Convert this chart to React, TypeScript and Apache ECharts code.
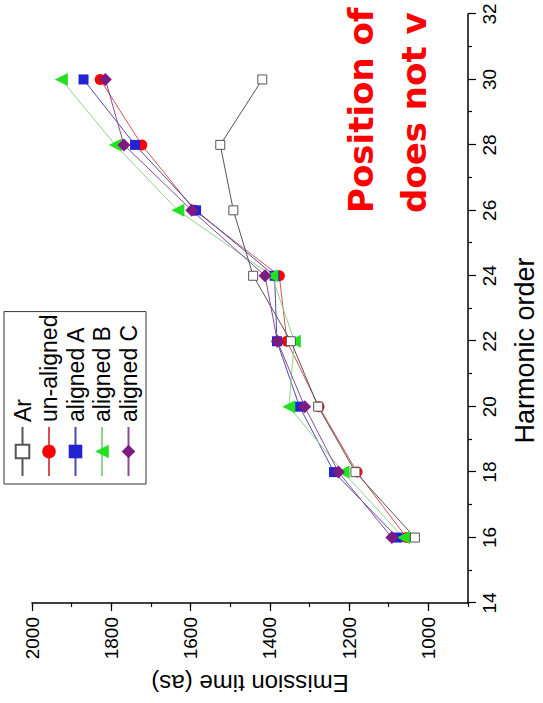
import React, { useEffect, useRef } from "react";
import * as echarts from "echarts";

// Harmonic orders and measured emission times (attoseconds)
const harmonics = [16, 18, 20, 22, 24, 26, 28, 30];
const arTimes = [1034, 1184, 1278, 1347, 1442, 1492, 1525, 1419];
const unalignedTimes = [1055, 1180, 1276, 1357, 1376, 1590, 1723, 1828];
const alignedATimes = [1078, 1238, 1325, 1382, 1388, 1586, 1740, 1870];
const alignedBTimes = [1063, 1215, 1352, 1338, 1395, 1632, 1790, 1926];
const alignedCTimes = [1092, 1227, 1312, 1381, 1412, 1597, 1768, 1815];

const seriesNames = ["Ar", "un-aligned", "aligned A", "aligned B", "aligned C"];
const timeTicks = [1000, 1200, 1400, 1600, 1800, 2000];
const noteLines = ["Position of", "does not v"];

const FONT = "'Liberation Sans', Arial, sans-serif";

const pairs = (vals: number[]) => harmonics.map((h, i) => [h, vals[i]]);

export default function App() {
  const ref = useRef<HTMLDivElement>(null);

  useEffect(() => {
    if (!ref.current) return;
    const chart = echarts.init(ref.current, undefined, { renderer: "svg" });

    const axisLine = { show: true, lineStyle: { color: "#000", width: 1.5 } };

    chart.setOption({
      animation: false,
      backgroundColor: "#fff",
      grid: { left: 96, right: 14, top: 32, bottom: 70, containLabel: false },
      legend: {
        data: seriesNames,
        orient: "vertical",
        left: 219,
        top: 4,
        itemWidth: 49,
        itemHeight: 17,
        itemGap: 3.5,
        padding: [7, 3, 6, 7],
        borderColor: "#333",
        borderWidth: 1,
        selectedMode: false,
        textStyle: { fontSize: 23, lineHeight: 23, fontFamily: FONT, color: "#000" },
      },
      xAxis: {
        type: "value",
        min: 14,
        max: 32,
        interval: 2,
        axisLine,
        axisTick: { show: true, inside: false, length: 8, lineStyle: { color: "#000", width: 1.2 } },
        minorTick: { show: true, splitNumber: 2, length: 4, lineStyle: { color: "#000", width: 1.2 } },
        axisLabel: { fontSize: 19, fontFamily: FONT, color: "#000", margin: 12 },
        splitLine: { show: false },
        minorSplitLine: { show: false },
        name: "Harmonic order",
        nameLocation: "middle",
        nameGap: 43,
        nameTextStyle: { fontSize: 27, fontFamily: FONT, color: "#000", padding: [0, 84, 0, 0] },
      },
      yAxis: [
        {
          type: "value",
          min: 900,
          max: 2000,
          position: "left",
          axisLine,
          axisTick: {
            show: true,
            inside: false,
            length: 8,
            customValues: timeTicks,
            lineStyle: { color: "#000", width: 1.2 },
          },
          axisLabel: {
            customValues: timeTicks,
            formatter: (v: number) => String(v),
            fontSize: 19,
            fontFamily: FONT,
            color: "#000",
            margin: 14,
          },
          splitLine: { show: false },
          name: "Emission time (as)",
          nameLocation: "middle",
          nameGap: 68,
          nameTextStyle: { fontSize: 24, fontFamily: FONT, color: "#000" },
        },
        {
          // minor ticks every 100 as
          type: "value",
          min: 900,
          max: 2000,
          interval: 100,
          position: "left",
          offset: 0,
          axisLine: { show: false },
          axisTick: { show: true, inside: false, length: 4, lineStyle: { color: "#000", width: 1.2 } },
          axisLabel: { show: false },
          splitLine: { show: false },
        },
      ],
      graphic: [
        {
          type: "text",
          left: 490,
          top: 334,
          style: {
            text: noteLines.join("\n"),
            font: "bold 34px 'DejaVu Sans', sans-serif",
            fill: "#ff0000",
            lineHeight: 53,
          },
        },
      ],
      series: [
        {
          name: "un-aligned",
          type: "line",
          data: pairs(unalignedTimes),
          symbol: "circle",
          symbolSize: 11,
          itemStyle: { color: "#ff0000" },
          lineStyle: { color: "#d85050", width: 1 },
        },
        {
          name: "aligned A",
          type: "line",
          data: pairs(alignedATimes),
          symbol: "rect",
          symbolSize: 10,
          itemStyle: { color: "#2323d2" },
          lineStyle: { color: "#4a4aa8", width: 1 },
        },
        {
          name: "aligned B",
          type: "line",
          data: pairs(alignedBTimes),
          symbol: "triangle",
          symbolSize: 13,
          itemStyle: { color: "#22e022" },
          lineStyle: { color: "#8ed48e", width: 1 },
        },
        {
          name: "aligned C",
          type: "line",
          data: pairs(alignedCTimes),
          symbol: "diamond",
          symbolSize: 13,
          itemStyle: { color: "#7f1a80" },
          lineStyle: { color: "#8a4a98", width: 1 },
        },
        {
          name: "Ar",
          type: "line",
          data: pairs(arTimes),
          symbol: "rect",
          symbolSize: 9,
          itemStyle: { color: "#ffffff", borderColor: "#555", borderWidth: 1 },
          lineStyle: { color: "#555", width: 1 },
        },
      ],
    });

    return () => chart.dispose();
  }, []);

  return (
    <div
      style={{
        position: "absolute",
        left: 0,
        top: 0,
        width: 543,
        height: 703,
        overflow: "hidden",
        background: "#fff",
      }}
    >
      <div
        ref={ref}
        style={{
          width: 703,
          height: 543,
          transformOrigin: "0 0",
          transform: "translateY(703px) rotate(-90deg)",
        }}
      />
    </div>
  );
}
